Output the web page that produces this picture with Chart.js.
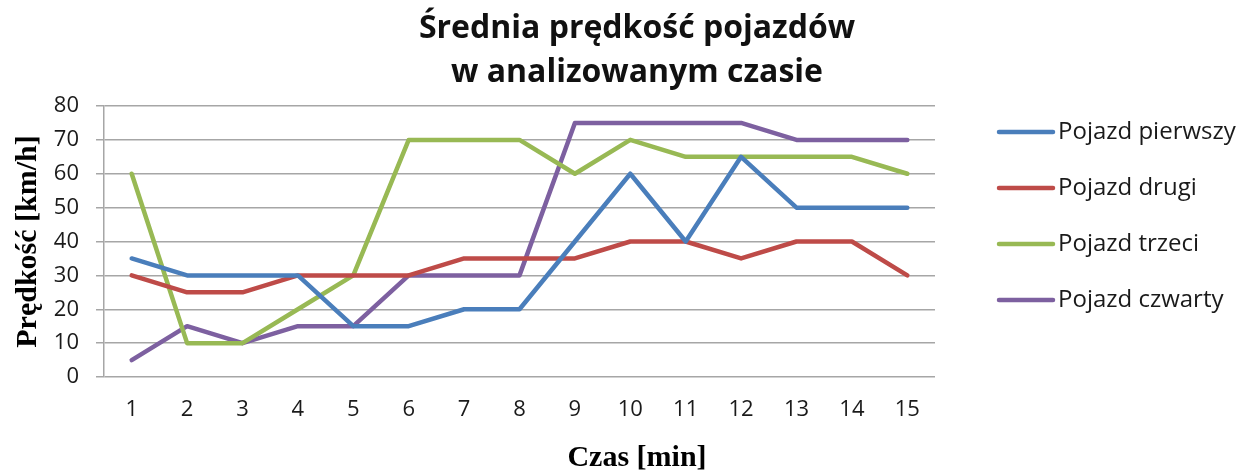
<!DOCTYPE html>
<html>
<head>
<meta charset="utf-8">
<script src="https://cdn.jsdelivr.net/npm/chart.js@4/dist/chart.umd.min.js"></script>
<style>
  html, body { margin: 0; padding: 0; background: #fff; }
  #wrap { width: 1248px; height: 475px; }
</style>
</head>
<body>
<div id="wrap"><canvas id="speedChart" width="1248" height="475"></canvas></div>
<script>
// Średnia prędkość pojazdów

const minutes = ["1", "2", "3", "4", "5", "6", "7", "8", "9", "10", "11", "12", "13", "14", "15"];
const yTicks = [0, 10, 20, 30, 40, 50, 60, 70, 80];

const pojazdPierwszy = [35, 30, 30, 30, 15, 15, 20, 20, 40, 60, 40, 65, 50, 50, 50];
const pojazdDrugi = [30, 25, 25, 30, 30, 30, 35, 35, 35, 40, 40, 35, 40, 40, 30];
const pojazdTrzeci = [60, 10, 10, 20, 30, 70, 70, 70, 60, 70, 65, 65, 65, 65, 60];
const pojazdCzwarty = [5, 15, 10, 15, 15, 30, 30, 30, 75, 75, 75, 75, 70, 70, 70];

const seriesNames = ["Pojazd pierwszy", "Pojazd drugi", "Pojazd trzeci", "Pojazd czwarty"];
const seriesColors = ["#4A7EBB", "#BE4B48", "#98B954", "#7D60A0"];

const SANS = "'Open Sans', sans-serif";
const SERIF = "'Liberation Serif', 'Times New Roman', serif";

function makeSet(i, values) {
  return {
    label: seriesNames[i],
    data: values,
    borderColor: seriesColors[i],
    backgroundColor: seriesColors[i],
    borderWidth: 4.5,
    borderCapStyle: "round",
    borderJoinStyle: "round",
    pointRadius: 0,
    pointHoverRadius: 0,
    tension: 0,
    fill: false,
  };
}

// legend on the right, drawn from the datasets
const sideLegend = {
  id: "sideLegend",
  afterDraw(chart) {
    const c = chart.ctx;
    const rowY = [132, 188, 244, 300];
    c.save();
    chart.data.datasets.forEach((ds, i) => {
      const y = rowY[i];
      c.strokeStyle = ds.borderColor;
      c.lineWidth = 4.5;
      c.lineCap = "round";
      c.beginPath();
      c.moveTo(999, y);
      c.lineTo(1053, y);
      c.stroke();
      c.fillStyle = "#1a1a1a";
      c.font = "24px " + SANS;
      c.textBaseline = "middle";
      c.textAlign = "left";
      c.fillText(ds.label, 1058, y);
    });
    c.restore();
  },
};

new Chart(document.getElementById("speedChart"), {
  type: "line",
  data: {
    labels: minutes,
    datasets: [
      makeSet(0, pojazdPierwszy),
      makeSet(1, pojazdDrugi),
      makeSet(2, pojazdTrzeci),
      makeSet(3, pojazdCzwarty),
    ],
  },
  options: {
    responsive: false,
    animation: false,
    layout: {
      padding: { left: 26, right: 0, top: 0, bottom: 0 },
    },
    plugins: {
      legend: { display: false },
      tooltip: { enabled: false },
      title: {
        display: true,
        text: ["Średnia prędkość pojazdów", "w analizowanym czasie"],
        color: "#111",
        font: { family: SANS, size: 32, weight: "bold", lineHeight: 1.375 },
        padding: { top: 7, bottom: 11 },
        align: "center",
      },
      // x axis caption, centred on the whole picture like the original
      subtitle: {
        display: true,
        position: "bottom",
        text: "Czas [min]",
        color: "#000",
        font: { family: SERIF, size: 30, weight: "bold", lineHeight: 1.1 },
        padding: { top: 0, bottom: 0 },
      },
    },
    scales: {
      x: {
        offset: true,
        grid: { display: false, drawTicks: false },
        border: { display: false },
        ticks: {
          color: "#1a1a1a",
          font: { family: SANS, size: 22 },
          padding: 20,
          maxRotation: 0,
          autoSkip: false,
        },
        afterFit(scale) { scale.height = 65; },
      },
      y: {
        min: 0,
        max: 80,
        afterBuildTicks(scale) { scale.ticks = yTicks.map(v => ({ value: v })); },
        grid: {
          color: "#A6A6A6",
          lineWidth: 1.5,
          tickLength: 8,
        },
        border: { display: true, color: "#A6A6A6", width: 1.5 },
        ticks: {
          color: "#1a1a1a",
          font: { family: SANS, size: 22 },
          padding: 17,
        },
        title: {
          display: true,
          text: "Prędkość [km/h]",
          color: "#000",
          font: { family: SERIF, size: 30, weight: "bold" },
          padding: { top: -16, bottom: 0 },
        },
        afterFit(scale) { scale.width = 78; },
      },
      // empty axis that keeps the room on the right for the legend
      side: {
        type: "linear",
        position: "right",
        grid: { display: false },
        border: { display: false },
        ticks: { display: false },
        afterFit(scale) { scale.width = 313; },
      },
    },
  },
  plugins: [sideLegend],
});
</script>
</body>
</html>
